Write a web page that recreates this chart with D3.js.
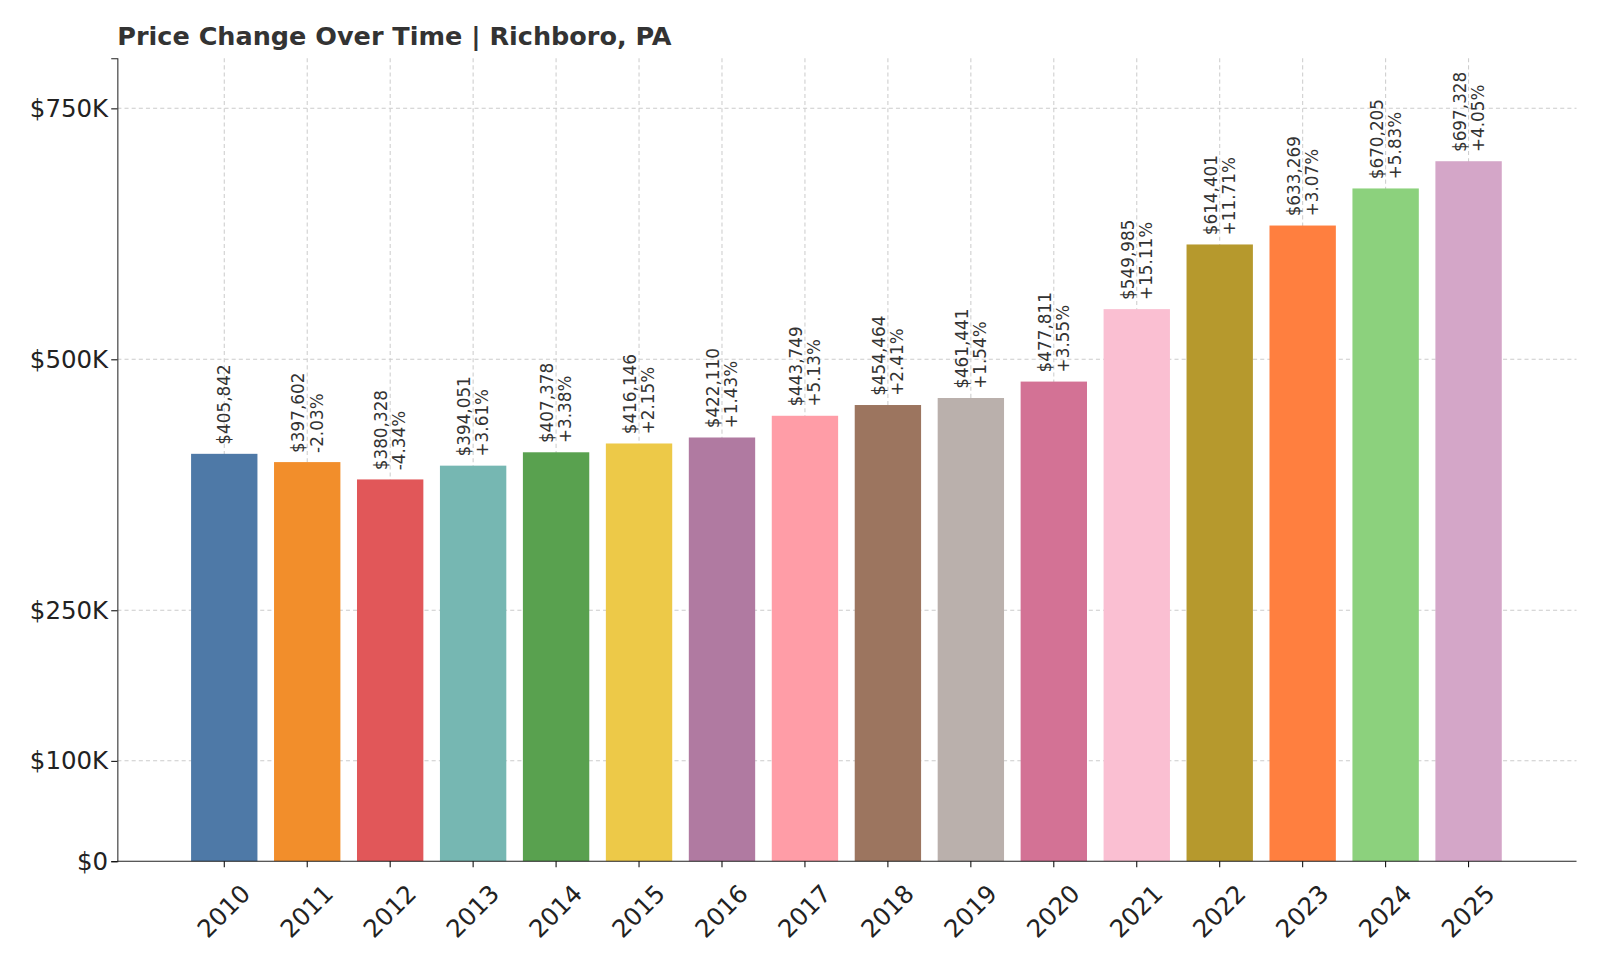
<!DOCTYPE html>
<html><head><meta charset="utf-8">
<script src="https://cdn.jsdelivr.net/npm/d3@7"></script>
<style>body{margin:0;background:#fff;font-family:"DejaVu Sans",sans-serif}</style>
</head><body><svg id="c" width="1600" height="960"></svg>
<script>
const years = ['2010','2011','2012','2013','2014','2015','2016','2017','2018','2019','2020','2021','2022','2023','2024','2025'];
const prices = [405842,397602,380328,394051,407378,416146,422110,443749,454464,461441,477811,549985,614401,633269,670205,697328];
const changes = [null,'-2.03%','-4.34%','+3.61%','+3.38%','+2.15%','+1.43%','+5.13%','+2.41%','+1.54%','+3.55%','+15.11%','+11.71%','+3.07%','+5.83%','+4.05%'];
const colors = ['#4e79a7','#f28e2b','#e15759','#76b7b2','#59a14f','#edc948','#b07aa1','#ff9da7','#9c755f','#bab0ac','#d37295','#fabfd2','#b6992d','#ff7f3f','#8cd17d','#d4a6c8'];
const yTicks = [0,100000,250000,500000,750000];
const yTickLabels = ['$0','$100K','$250K','$500K','$750K'];

const svg = d3.select('#c').append('g').attr('transform', 'scale(1.0204)');
const L = 115, R = 1545, T = 57, B = 844;
const x = d3.scaleBand().domain(years).range([171, 1488]).padding(0.2);
const y = d3.scaleLinear().domain([0, 800000]).range([B, T]);

const grid = svg.append('g').attr('stroke', '#ccc').attr('stroke-dasharray', '4,3').attr('stroke-width', 1);
grid.selectAll('.h').data(yTicks.slice(1)).enter().append('line')
  .attr('x1', L).attr('x2', R).attr('y1', d => y(d)).attr('y2', d => y(d));
grid.selectAll('.v').data(years).enter().append('line')
  .attr('x1', d => x(d) + x.bandwidth() / 2).attr('x2', d => x(d) + x.bandwidth() / 2)
  .attr('y1', T).attr('y2', B);

svg.append('g').selectAll('rect').data(years).enter().append('rect')
  .attr('x', d => x(d)).attr('width', x.bandwidth())
  .attr('y', (d, i) => y(prices[i])).attr('height', (d, i) => B - y(prices[i]))
  .attr('fill', (d, i) => colors[i]);

const lab = svg.append('g').selectAll('g').data(years).enter().append('g')
  .attr('transform', (d, i) => `translate(${x(d) + x.bandwidth() / 2},${y(prices[i]) - 9}) rotate(-90)`);
lab.append('text').attr('x', 0).attr('y', (d, i) => changes[i] ? -3 : 6)
  .attr('font-size', 16.5).attr('fill', '#333')
  .text((d, i) => '$' + d3.format(',')(prices[i]));
lab.filter((d, i) => changes[i]).append('text').attr('x', 0).attr('y', 15)
  .attr('font-size', 16.5).attr('fill', '#333')
  .text(d => changes[years.indexOf(d)]);

const yAxis = svg.append('g').attr('transform', `translate(${L},0)`)
  .call(d3.axisLeft(y).tickValues(yTicks).tickFormat((d, i) => yTickLabels[i]).tickSize(6));
yAxis.selectAll('text').attr('font-size', 24).attr('fill', '#222').attr('font-family', 'DejaVu Sans');
yAxis.select('.domain').attr('stroke', '#222');

const xAxis = svg.append('g').attr('transform', `translate(0,${B})`)
  .call(d3.axisBottom(x).tickSize(6));
xAxis.select('.domain').attr('d', `M${L},0H${R}`).attr('stroke', '#222');
xAxis.selectAll('text').attr('font-size', 24).attr('fill', '#222').attr('font-family', 'DejaVu Sans')
  .attr('text-anchor', 'end').attr('dx', '-0.1em').attr('dy', '0.9em')
  .attr('transform', 'rotate(-45) translate(-2,12)');

svg.append('text').attr('x', L).attr('y', 44).attr('font-size', 25).attr('font-weight', 'bold')
  .attr('fill', '#333').text('Price Change Over Time | Richboro, PA');
</script></body></html>
